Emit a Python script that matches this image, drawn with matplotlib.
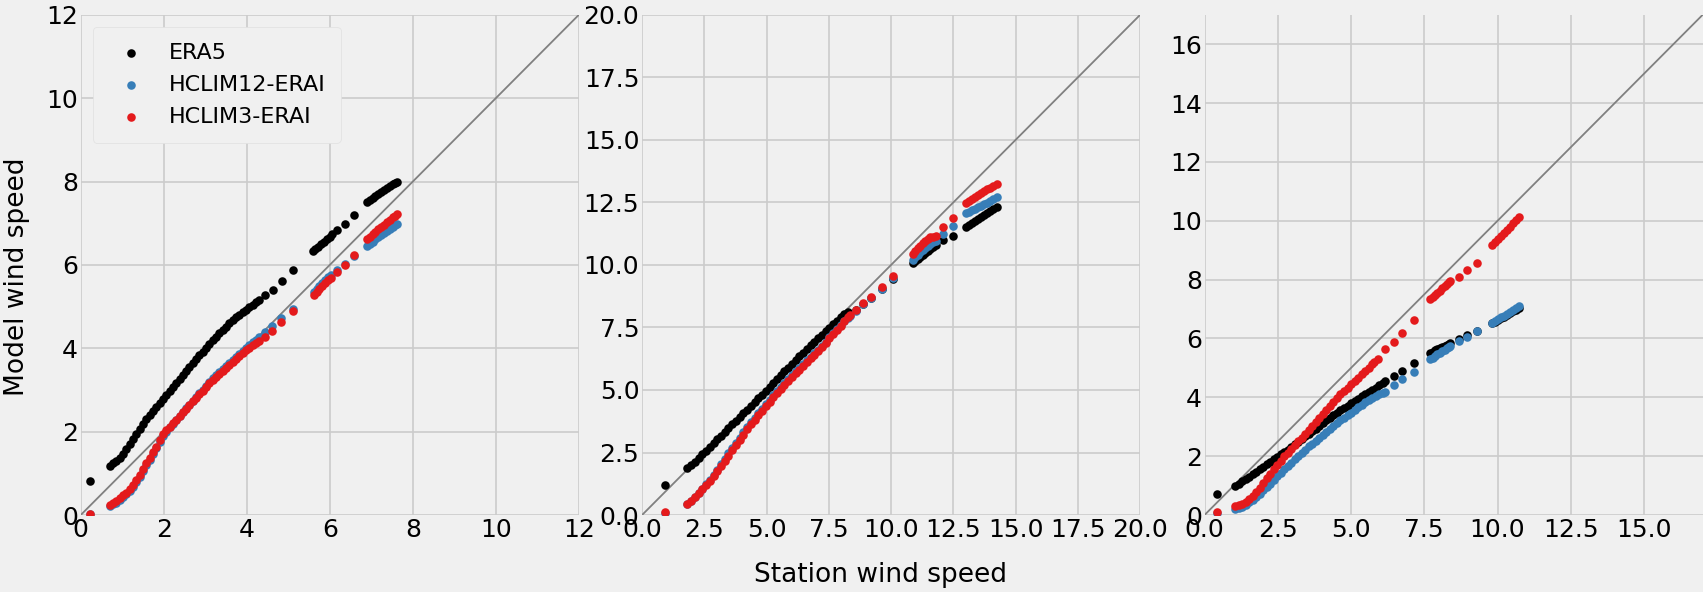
import matplotlib
matplotlib.use('Agg')
import matplotlib.pyplot as plt
from matplotlib.ticker import MultipleLocator
import numpy as np


plt.style.use('fivethirtyeight')

SERIES = ['ERA5', 'HCLIM12-ERAI', 'HCLIM3-ERAI']
COLORS = ['black', '#377eb8', '#e41a1c']

# quantile pairs (station, model)
p1_era5 = [
    (0.22, 0.82), (0.70, 1.18), (0.78, 1.24), (0.86, 1.30), (0.94, 1.37), (1.02, 1.46),
    (1.10, 1.58), (1.18, 1.71), (1.26, 1.83), (1.34, 1.95), (1.42, 2.07), (1.50, 2.19),
    (1.58, 2.30), (1.66, 2.40), (1.74, 2.50), (1.82, 2.60), (1.90, 2.69), (1.98, 2.78),
    (2.06, 2.88), (2.14, 2.98), (2.22, 3.08), (2.30, 3.17), (2.38, 3.26), (2.46, 3.36),
    (2.54, 3.46), (2.62, 3.55), (2.70, 3.65), (2.78, 3.74), (2.86, 3.83), (2.94, 3.92),
    (3.02, 4.01), (3.10, 4.10), (3.18, 4.19), (3.26, 4.28), (3.34, 4.36), (3.42, 4.44),
    (3.50, 4.52), (3.58, 4.60), (3.66, 4.67), (3.74, 4.74), (3.82, 4.81), (3.90, 4.87),
    (3.98, 4.93), (4.06, 4.99), (4.14, 5.05), (4.22, 5.11), (4.30, 5.17), (4.45, 5.27),
    (4.63, 5.41), (4.84, 5.61), (5.12, 5.89), (5.59, 6.34), (5.65, 6.38), (5.72, 6.44),
    (5.79, 6.50), (5.86, 6.56), (5.93, 6.62), (6.00, 6.68), (6.06, 6.73), (6.17, 6.84),
    (6.37, 6.98), (6.58, 7.20), (6.89, 7.50), (6.96, 7.55), (7.03, 7.60), (7.10, 7.65),
    (7.17, 7.70), (7.24, 7.75), (7.31, 7.80), (7.38, 7.85), (7.45, 7.89), (7.52, 7.94),
    (7.58, 7.97), (7.62, 8.00),
]
p1_hclim12 = [
    (0.22, 0.02), (0.70, 0.22), (0.78, 0.26), (0.86, 0.30), (0.94, 0.36), (1.02, 0.43),
    (1.10, 0.50), (1.18, 0.58), (1.26, 0.67), (1.34, 0.79), (1.42, 0.92), (1.50, 1.05),
    (1.58, 1.19), (1.66, 1.32), (1.74, 1.46), (1.82, 1.60), (1.90, 1.75), (1.98, 1.90),
    (2.06, 2.00), (2.14, 2.10), (2.22, 2.19), (2.30, 2.28), (2.38, 2.37), (2.46, 2.46),
    (2.54, 2.56), (2.62, 2.65), (2.70, 2.74), (2.78, 2.83), (2.86, 2.92), (2.94, 3.01),
    (3.02, 3.10), (3.10, 3.19), (3.18, 3.28), (3.26, 3.36), (3.34, 3.44), (3.42, 3.51),
    (3.50, 3.58), (3.58, 3.65), (3.66, 3.72), (3.74, 3.79), (3.82, 3.86), (3.90, 3.93),
    (3.98, 4.00), (4.06, 4.07), (4.14, 4.14), (4.22, 4.20), (4.30, 4.27), (4.43, 4.38),
    (4.60, 4.53), (4.83, 4.72), (5.12, 4.95), (5.61, 5.36), (5.68, 5.42), (5.75, 5.49),
    (5.82, 5.56), (5.89, 5.63), (5.96, 5.70), (6.03, 5.76), (6.17, 5.88), (6.37, 6.03),
    (6.58, 6.22), (6.89, 6.46), (6.96, 6.51), (7.03, 6.56), (7.10, 6.61), (7.17, 6.66),
    (7.24, 6.71), (7.31, 6.76), (7.38, 6.81), (7.45, 6.86), (7.52, 6.91), (7.58, 6.95),
    (7.62, 6.98),
]
p1_hclim3 = [
    (0.22, 0.03), (0.70, 0.24), (0.78, 0.28), (0.86, 0.33), (0.94, 0.40), (1.02, 0.47),
    (1.10, 0.54), (1.18, 0.62), (1.26, 0.72), (1.34, 0.84), (1.42, 0.97), (1.50, 1.10),
    (1.58, 1.24), (1.66, 1.37), (1.74, 1.51), (1.82, 1.64), (1.90, 1.79), (1.98, 1.94),
    (2.06, 2.03), (2.14, 2.12), (2.22, 2.20), (2.30, 2.29), (2.38, 2.37), (2.46, 2.46),
    (2.54, 2.55), (2.62, 2.64), (2.70, 2.73), (2.78, 2.81), (2.86, 2.90), (2.94, 2.98),
    (3.02, 3.07), (3.10, 3.16), (3.18, 3.24), (3.26, 3.32), (3.34, 3.39), (3.42, 3.46),
    (3.50, 3.53), (3.58, 3.60), (3.66, 3.67), (3.74, 3.74), (3.82, 3.81), (3.90, 3.88),
    (3.98, 3.95), (4.06, 4.01), (4.14, 4.07), (4.22, 4.12), (4.30, 4.18), (4.43, 4.28),
    (4.60, 4.42), (4.83, 4.63), (5.12, 4.89), (5.61, 5.29), (5.68, 5.35), (5.75, 5.42),
    (5.82, 5.49), (5.89, 5.56), (5.96, 5.63), (6.03, 5.69), (6.17, 5.83), (6.37, 6.00),
    (6.58, 6.24), (6.89, 6.62), (6.96, 6.67), (7.03, 6.73), (7.10, 6.79), (7.17, 6.85),
    (7.24, 6.90), (7.31, 6.96), (7.38, 7.02), (7.45, 7.08), (7.52, 7.14), (7.58, 7.18),
    (7.62, 7.22),
]

p2_era5 = [
    (0.92, 1.20), (1.82, 1.87), (1.97, 2.00), (2.12, 2.14), (2.27, 2.28), (2.42, 2.43),
    (2.57, 2.58), (2.72, 2.73), (2.87, 2.88), (3.02, 3.03), (3.17, 3.18), (3.32, 3.33),
    (3.47, 3.48), (3.62, 3.62), (3.77, 3.77), (3.92, 3.91), (4.07, 4.06), (4.22, 4.20),
    (4.37, 4.35), (4.52, 4.50), (4.67, 4.66), (4.82, 4.81), (4.97, 4.97), (5.12, 5.12),
    (5.27, 5.28), (5.42, 5.44), (5.57, 5.59), (5.72, 5.74), (5.87, 5.89), (6.02, 6.04),
    (6.17, 6.19), (6.32, 6.34), (6.47, 6.49), (6.62, 6.63), (6.77, 6.78), (6.92, 6.92),
    (7.07, 7.07), (7.22, 7.21), (7.37, 7.35), (7.52, 7.49), (7.67, 7.63), (7.82, 7.77),
    (7.97, 7.91), (8.12, 8.04), (8.26, 8.10), (8.59, 8.18), (8.86, 8.42), (9.19, 8.66),
    (9.62, 9.02), (10.09, 9.43), (10.87, 10.08), (10.97, 10.16), (11.07, 10.24),
    (11.17, 10.32), (11.27, 10.40), (11.37, 10.48), (11.47, 10.56), (11.57, 10.64),
    (11.67, 10.72), (11.79, 10.80), (12.10, 10.98), (12.48, 11.15), (13.02, 11.51),
    (13.14, 11.60), (13.26, 11.68), (13.38, 11.76), (13.50, 11.84), (13.62, 11.92),
    (13.74, 12.00), (13.86, 12.08), (13.98, 12.15), (14.10, 12.22), (14.25, 12.31),
]
p2_hclim12 = [
    (0.92, 0.10), (1.82, 0.44), (1.97, 0.57), (2.12, 0.72), (2.27, 0.88), (2.42, 1.05),
    (2.57, 1.23), (2.72, 1.41), (2.87, 1.60), (3.02, 1.81), (3.17, 2.03), (3.32, 2.25),
    (3.47, 2.47), (3.62, 2.68), (3.77, 2.89), (3.92, 3.10), (4.07, 3.31), (4.22, 3.52),
    (4.37, 3.71), (4.52, 3.89), (4.67, 4.07), (4.82, 4.25), (4.97, 4.43), (5.12, 4.61),
    (5.27, 4.79), (5.42, 4.96), (5.57, 5.12), (5.72, 5.28), (5.87, 5.44), (6.02, 5.59),
    (6.17, 5.74), (6.32, 5.89), (6.47, 6.04), (6.62, 6.18), (6.77, 6.32), (6.92, 6.46),
    (7.07, 6.61), (7.22, 6.77), (7.37, 6.93), (7.52, 7.10), (7.67, 7.26), (7.82, 7.42),
    (7.97, 7.58), (8.12, 7.74), (8.27, 7.89), (8.35, 7.97), (8.59, 8.16), (8.86, 8.42),
    (9.19, 8.68), (9.62, 9.05), (10.09, 9.48), (10.87, 10.20), (10.97, 10.30),
    (11.07, 10.40), (11.17, 10.50), (11.27, 10.59), (11.37, 10.67), (11.47, 10.75),
    (11.57, 10.83), (11.67, 10.90), (11.79, 10.97), (12.10, 11.22), (12.48, 11.55),
    (13.02, 12.06), (13.14, 12.12), (13.26, 12.18), (13.38, 12.24), (13.50, 12.30),
    (13.62, 12.36), (13.74, 12.42), (13.86, 12.48), (13.98, 12.55), (14.10, 12.62),
    (14.25, 12.70),
]
p2_hclim3 = [
    (0.92, 0.13), (1.82, 0.46), (1.97, 0.58), (2.12, 0.73), (2.27, 0.88), (2.42, 1.04),
    (2.57, 1.21), (2.72, 1.38), (2.87, 1.55), (3.02, 1.75), (3.17, 1.96), (3.32, 2.17),
    (3.47, 2.38), (3.62, 2.59), (3.77, 2.80), (3.92, 3.01), (4.07, 3.22), (4.22, 3.43),
    (4.37, 3.62), (4.52, 3.80), (4.67, 3.98), (4.82, 4.16), (4.97, 4.34), (5.12, 4.52),
    (5.27, 4.70), (5.42, 4.87), (5.57, 5.04), (5.72, 5.20), (5.87, 5.36), (6.02, 5.51),
    (6.17, 5.66), (6.32, 5.81), (6.47, 5.96), (6.62, 6.11), (6.77, 6.26), (6.92, 6.40),
    (7.07, 6.56), (7.22, 6.72), (7.37, 6.89), (7.52, 7.07), (7.67, 7.24), (7.82, 7.40),
    (7.97, 7.57), (8.12, 7.74), (8.27, 7.90), (8.35, 7.99), (8.59, 8.20), (8.86, 8.47),
    (9.19, 8.72), (9.62, 9.10), (10.09, 9.57), (10.87, 10.44), (10.97, 10.55),
    (11.07, 10.66), (11.17, 10.76), (11.27, 10.86), (11.37, 10.95), (11.47, 11.03),
    (11.57, 11.10), (11.67, 11.12), (11.79, 11.17), (12.10, 11.51), (12.48, 11.87),
    (13.02, 12.49), (13.14, 12.57), (13.26, 12.64), (13.38, 12.72), (13.50, 12.79),
    (13.62, 12.87), (13.74, 12.94), (13.86, 13.02), (13.98, 13.09), (14.10, 13.17),
    (14.25, 13.25),
]

p3_era5 = [
    (0.44, 0.70), (1.04, 1.00), (1.16, 1.07), (1.28, 1.15), (1.40, 1.22), (1.52, 1.30),
    (1.64, 1.38), (1.76, 1.47), (1.88, 1.55), (2.00, 1.64), (2.12, 1.72), (2.24, 1.81),
    (2.36, 1.89), (2.48, 1.97), (2.60, 2.06), (2.72, 2.14), (2.84, 2.22), (2.96, 2.31),
    (3.08, 2.40), (3.20, 2.49), (3.32, 2.58), (3.44, 2.67), (3.56, 2.77), (3.68, 2.86),
    (3.80, 2.94), (3.92, 3.03), (4.04, 3.12), (4.16, 3.22), (4.28, 3.30), (4.40, 3.39),
    (4.52, 3.47), (4.64, 3.56), (4.76, 3.64), (4.88, 3.72), (5.00, 3.80), (5.12, 3.88),
    (5.24, 3.95), (5.36, 4.03), (5.48, 4.10), (5.60, 4.18), (5.72, 4.25), (5.84, 4.33),
    (5.96, 4.41), (6.08, 4.48), (6.17, 4.54), (6.45, 4.74), (6.74, 4.91), (7.15, 5.15),
    (7.71, 5.51), (7.79, 5.55), (7.87, 5.60), (7.95, 5.64), (8.03, 5.68), (8.11, 5.72),
    (8.19, 5.75), (8.27, 5.79), (8.35, 5.82), (8.39, 5.84), (8.68, 5.97), (8.96, 6.11),
    (9.30, 6.25), (9.82, 6.52), (9.92, 6.57), (10.02, 6.62), (10.12, 6.68), (10.22, 6.74),
    (10.32, 6.80), (10.42, 6.86), (10.52, 6.92), (10.62, 6.98), (10.73, 7.05),
]
p3_hclim12 = [
    (0.41, 0.08), (1.04, 0.19), (1.16, 0.23), (1.28, 0.28), (1.40, 0.35), (1.52, 0.43),
    (1.64, 0.52), (1.76, 0.62), (1.88, 0.73), (2.00, 0.84), (2.12, 0.95), (2.24, 1.07),
    (2.36, 1.20), (2.48, 1.33), (2.60, 1.44), (2.72, 1.55), (2.84, 1.66), (2.96, 1.78),
    (3.08, 1.89), (3.20, 2.00), (3.32, 2.11), (3.44, 2.22), (3.56, 2.33), (3.68, 2.43),
    (3.80, 2.53), (3.92, 2.63), (4.04, 2.73), (4.16, 2.83), (4.28, 2.93), (4.40, 3.03),
    (4.52, 3.13), (4.64, 3.22), (4.76, 3.31), (4.88, 3.40), (5.00, 3.48), (5.12, 3.57),
    (5.24, 3.66), (5.36, 3.74), (5.48, 3.83), (5.60, 3.91), (5.72, 3.98), (5.84, 4.05),
    (5.96, 4.12), (6.08, 4.16), (6.17, 4.19), (6.45, 4.41), (6.74, 4.61), (7.14, 4.87),
    (7.71, 5.29), (7.79, 5.35), (7.87, 5.40), (7.95, 5.46), (8.03, 5.51), (8.11, 5.56),
    (8.19, 5.61), (8.27, 5.66), (8.35, 5.71), (8.39, 5.74), (8.68, 5.91), (8.96, 6.06),
    (9.30, 6.26), (9.82, 6.54), (9.92, 6.60), (10.02, 6.66), (10.12, 6.72), (10.22, 6.78),
    (10.32, 6.84), (10.42, 6.91), (10.52, 6.97), (10.62, 7.03), (10.73, 7.10),
]
p3_hclim3 = [
    (0.41, 0.12), (1.04, 0.30), (1.16, 0.34), (1.28, 0.39), (1.40, 0.45), (1.52, 0.54),
    (1.64, 0.65), (1.76, 0.78), (1.88, 0.93), (2.00, 1.09), (2.12, 1.25), (2.24, 1.40),
    (2.36, 1.56), (2.48, 1.71), (2.60, 1.85), (2.72, 1.99), (2.84, 2.12), (2.96, 2.26),
    (3.08, 2.39), (3.20, 2.51), (3.32, 2.63), (3.44, 2.76), (3.56, 2.89), (3.68, 3.03),
    (3.80, 3.17), (3.92, 3.31), (4.04, 3.45), (4.16, 3.58), (4.28, 3.71), (4.40, 3.84),
    (4.52, 3.97), (4.64, 4.10), (4.76, 4.22), (4.88, 4.33), (5.00, 4.44), (5.12, 4.55),
    (5.24, 4.67), (5.36, 4.78), (5.48, 4.89), (5.60, 5.01), (5.72, 5.13), (5.80, 5.20),
    (5.92, 5.31), (6.17, 5.63), (6.45, 5.88), (6.74, 6.18), (7.14, 6.63), (7.71, 7.33),
    (7.79, 7.40), (7.87, 7.48), (7.95, 7.55), (8.03, 7.63), (8.11, 7.70), (8.19, 7.78),
    (8.27, 7.85), (8.35, 7.92), (8.39, 7.95), (8.68, 8.10), (8.96, 8.32), (9.30, 8.58),
    (9.82, 9.17), (9.92, 9.27), (10.02, 9.38), (10.12, 9.48), (10.22, 9.59),
    (10.32, 9.70), (10.42, 9.80), (10.52, 9.91), (10.62, 10.02), (10.73, 10.13),
]

panels = [
    ([p1_era5, p1_hclim12, p1_hclim3], 12, 2, 2, '{x:.0f}', '{x:.0f}'),
    ([p2_era5, p2_hclim12, p2_hclim3], 20, 2.5, 2.5, '{x:.1f}', '{x:.1f}'),
    ([p3_era5, p3_hclim12, p3_hclim3], 17, 2.5, 2, '{x:.1f}', '{x:.0f}'),
]
lefts = [0.0474, 0.377, 0.7073]

fig = plt.figure(figsize=(17.03, 5.92), dpi=100)
fig.patch.set_facecolor('#f0f0f0')

for i, (data, lim, xstep, ystep, xfmt, yfmt) in enumerate(panels):
    ax = fig.add_axes([lefts[i], 0.130, 0.2925, 0.845])
    ax.set_facecolor('#f0f0f0')
    for pts, name, color in zip(data, SERIES, COLORS):
        pts = np.array(pts)
        ax.scatter(pts[:, 0], pts[:, 1], s=38, color=color, linewidths=0,
                   label=name, zorder=3)
    ax.plot([0, lim], [0, lim], color='grey', lw=1.3, zorder=2)
    ax.set_xlim(0, lim)
    ax.set_ylim(0, lim)
    ax.xaxis.set_major_locator(MultipleLocator(xstep))
    ax.yaxis.set_major_locator(MultipleLocator(ystep))
    ax.xaxis.set_major_formatter(xfmt)
    ax.yaxis.set_major_formatter(yfmt)
    ax.tick_params(labelsize=18, pad=2)
    ax.grid(True, color='#cbcbcb', lw=1.2)
    for sp in ax.spines.values():
        sp.set_visible(False)
    if i == 0:
        ax.legend(loc='upper left', fontsize=16, handletextpad=0.7,
                  borderpad=0.7, labelspacing=0.55, borderaxespad=0.55,
                  facecolor='#f0f0f0', edgecolor='#e0e0e0', framealpha=1)

fig.text(0.517, 0.017, 'Station wind speed', fontsize=19, ha='center', va='baseline')
fig.text(0.0097, 0.532, 'Model wind speed', fontsize=19, ha='center', va='center',
         rotation=90)

fig.savefig('out.png', dpi=100, facecolor='#f0f0f0')
